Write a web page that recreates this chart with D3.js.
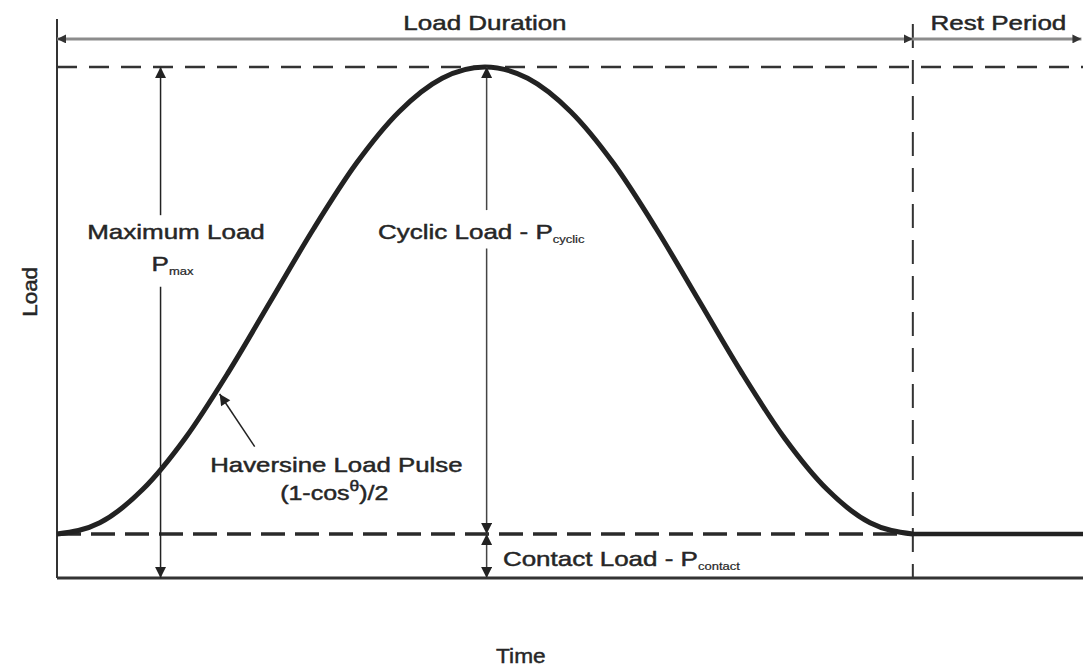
<!DOCTYPE html>
<html>
<head>
    <meta charset="utf-8">
    <title>Haversine load pulse</title>
    <script src="https://cdnjs.cloudflare.com/ajax/libs/d3/7.8.5/d3.min.js"></script>
    <style>
        body, html {
            margin: 0;
            padding: 0;
            background: #fff;
        }
        svg text {
            font-family: "Liberation Sans", Arial, sans-serif;
            fill: #262626;
            stroke: #262626;
            stroke-width: 0.45px;
        }
    </style>
</head>
<body>
<div id="chart"></div>
<script>
    // time as a fraction of the load duration, load as a fraction of P max
    var pulseTime = [0, 0.05, 0.1, 0.15, 0.2, 0.25, 0.3, 0.35, 0.4, 0.45, 0.5,
        0.55, 0.6, 0.65, 0.7, 0.75, 0.8, 0.85, 0.9, 0.95, 1.0];
    var pulseLoad = [0.086, 0.108, 0.173, 0.274, 0.402, 0.543, 0.684, 0.812, 0.913, 0.978, 1.0,
        0.978, 0.913, 0.812, 0.684, 0.543, 0.402, 0.274, 0.173, 0.108, 0.086];
    var restTime = [1.0, 1.2];
    var restLoad = [0.086, 0.086];

    var contactLoad = 0.086;
    var maxLoad = 1.0;
    var loadEnd = 1.0;
    var timeEnd = 1.2;
    var loadTop = 1.094;
    var periodNames = ['Load Duration', 'Rest Period'];
    var axisNames = ['Time', 'Load'];

    var W = 1083, H = 670;
    var x = d3.scaleLinear().domain([0, timeEnd]).range([57, 1084]);
    var y = d3.scaleLinear().domain([0, maxLoad]).range([578, 67]);

    var svg = d3.select('#chart').append('svg')
        .attr('width', W)
        .attr('height', H);

    var defs = svg.append('defs');

    function addMarker(id, color, len, wid) {
        defs.append('marker')
            .attr('id', id)
            .attr('viewBox', '0 0 10 10')
            .attr('refX', 10)
            .attr('refY', 5)
            .attr('markerWidth', len)
            .attr('markerHeight', wid)
            .attr('markerUnits', 'userSpaceOnUse')
            .attr('orient', 'auto-start-reverse')
            .append('path')
            .attr('d', 'M0,0L10,5L0,10Z')
            .attr('fill', color);
    }
    addMarker('head', '#222', 12, 11);
    addMarker('headGrey', '#333', 9, 9);

    function seg(t1, l1, t2, l2) {
        return svg.append('line')
            .attr('x1', x(t1)).attr('y1', y(l1))
            .attr('x2', x(t2)).attr('y2', y(l2));
    }

    // axes frame
    seg(0, loadTop, 0, 0).attr('stroke', '#333').attr('stroke-width', 2);
    seg(0, 0, timeEnd, 0).attr('stroke', '#333').attr('stroke-width', 3);

    // reference dashed lines
    seg(0, maxLoad, timeEnd, maxLoad)
        .attr('stroke', '#333').attr('stroke-width', 2.5).attr('stroke-dasharray', '20,12');
    seg(0, contactLoad, loadEnd, contactLoad)
        .attr('stroke', '#2a2a2a').attr('stroke-width', 3.5).attr('stroke-dasharray', '24,10');
    seg(loadEnd, loadTop - 0.01, loadEnd, 0)
        .attr('stroke', '#333').attr('stroke-width', 2).attr('stroke-dasharray', '24,12');

    // period arrows on top
    var periodY = 1.055;
    seg(0, periodY, loadEnd, periodY)
        .attr('stroke', '#8c8c8c').attr('stroke-width', 3)
        .attr('marker-start', 'url(#headGrey)').attr('marker-end', 'url(#headGrey)');
    seg(loadEnd, periodY, timeEnd - 0.003, periodY)
        .attr('stroke', '#8c8c8c').attr('stroke-width', 3)
        .attr('marker-end', 'url(#headGrey)');

    // haversine pulse and rest
    var line = d3.line()
        .x(function (d) { return x(d[0]); })
        .y(function (d) { return y(d[1]); })
        .curve(d3.curveMonotoneX);

    svg.append('path')
        .datum(pulseTime.map(function (t, i) { return [t, pulseLoad[i]]; }))
        .attr('d', line)
        .attr('fill', 'none')
        .attr('stroke', '#222')
        .attr('stroke-width', 5);

    svg.append('path')
        .datum(restTime.map(function (t, i) { return [t, restLoad[i]]; }))
        .attr('d', line)
        .attr('fill', 'none')
        .attr('stroke', '#222')
        .attr('stroke-width', 4.5);

    // dimension arrows
    var maxX = 0.121, cycX = 0.502;
    seg(maxX, 0.71, maxX, maxLoad).attr('stroke', '#222').attr('stroke-width', 1.5)
        .attr('marker-end', 'url(#head)');
    seg(maxX, 0.57, maxX, 0).attr('stroke', '#222').attr('stroke-width', 1.5)
        .attr('marker-end', 'url(#head)');
    seg(cycX, 0.72, cycX, maxLoad).attr('stroke', '#444').attr('stroke-width', 1.5)
        .attr('marker-end', 'url(#head)');
    seg(cycX, 0.645, cycX, contactLoad).attr('stroke', '#444').attr('stroke-width', 1.5)
        .attr('marker-end', 'url(#head)');
    seg(cycX, contactLoad, cycX, 0).attr('stroke', '#444').attr('stroke-width', 1.5)
        .attr('marker-start', 'url(#head)').attr('marker-end', 'url(#head)');

    // pointer to the curve
    seg(0.231, 0.257, 0.19, 0.36).attr('stroke', '#222').attr('stroke-width', 1.5)
        .attr('marker-end', 'url(#head)');

    // labels
    function label(t, l, anchor, sx, size) {
        return svg.append('text')
            .attr('transform', 'translate(' + x(t) + ',' + y(l) + ') scale(' + sx + ',1)')
            .attr('text-anchor', anchor)
            .style('font-size', size + 'px');
    }
    function addSub(txt, s) {
        txt.append('tspan').attr('dy', 4).style('font-size', '10px').style('stroke-width', '0.2px').text(s);
    }

    label(0.5, 1.072, 'middle', 1.3, 20).text(periodNames[0]);
    label(1.1, 1.072, 'middle', 1.3, 20).text(periodNames[1]);

    label(0.139, 0.664, 'middle', 1.3, 20).text('Maximum Load');
    var pm = label(0.135, 0.6, 'middle', 1.3, 20);
    pm.append('tspan').text('P');
    addSub(pm, 'max');

    var cy = label(0.375, 0.664, 'start', 1.3, 20);
    cy.append('tspan').text('Cyclic Load - P');
    addSub(cy, 'cyclic');

    label(0.179, 0.207, 'start', 1.29, 20).text('Haversine Load Pulse');
    var hv = label(0.324, 0.153, 'middle', 1.25, 20);
    hv.append('tspan').text('(1-cos');
    hv.append('tspan').attr('dy', -9).style('font-size', '14px').text('\u03b8');
    hv.append('tspan').attr('dy', 9).text(')/2');

    var ct = label(0.521, 0.023, 'start', 1.3, 20);
    ct.append('tspan').text('Contact Load - P');
    addSub(ct, 'contact');

    // axis titles
    svg.append('text')
        .attr('transform', 'translate(' + x(0.542) + ',663) scale(1.08,1)')
        .attr('text-anchor', 'middle')
        .style('font-size', '21px')
        .text(axisNames[0]);
    svg.append('text')
        .attr('transform', 'translate(37,' + y(0.56) + ') rotate(-90) scale(1.12,1)')
        .attr('text-anchor', 'middle')
        .style('font-size', '20px')
        .text(axisNames[1]);
</script>
</body>
</html>
